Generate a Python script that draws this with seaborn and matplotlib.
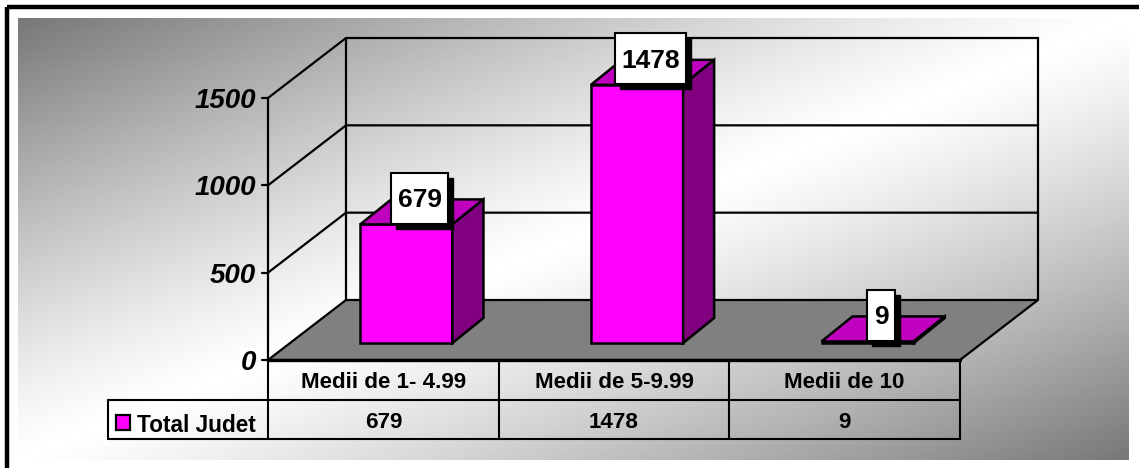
import matplotlib
matplotlib.use("Agg")
import matplotlib.pyplot as plt
import numpy as np
import pandas as pd
import seaborn as sns
from matplotlib.patches import Polygon, Rectangle

categories = ["Medii de 1- 4.99", "Medii de 5-9.99", "Medii de 10"]
values = [679, 1478, 9]
y_ticks = [0, 500, 1000, 1500]
series_name = "Total Judet"

W, H = 1139, 468
MAGENTA, TOP_FACE, SIDE_FACE = "#ff00ff", "#bf00bf", "#800080"
DX, DY = 78, 60  # floor depth in pixels
BAR_DX, BAR_DY = 31, 25
X0, X1, Y0 = 268, 960, 360  # front edge of the floor
PX_PER_UNIT = 262 / 1500

sns.set_theme(style="white")
plt.rcParams["font.family"] = ["Liberation Sans", "DejaVu Sans"]
plt.rcParams["text.color"] = "black"
fig = plt.figure(figsize=(W / 100, H / 100), dpi=100, facecolor="white")

# pixel coordinate layers, below and above the bars
bg = fig.add_axes([0, 0, 1, 1], zorder=0)
top = fig.add_axes([0, 0, 1, 1], zorder=2)
for a in (bg, top):
    a.set_xlim(0, W)
    a.set_ylim(H, 0)
    a.axis("off")
    a.patch.set_alpha(0)

# diagonal grey gradient
u, v = np.meshgrid(np.linspace(0, 1, 400), np.linspace(0, 1, 200))
t = np.abs((u + v) - 1)
bg.imshow(1 - 0.53 * t ** 1.2, cmap="gray", vmin=0, vmax=1, extent=(18, 1129, 460, 18),
          aspect="auto", zorder=0)
bg.set_xlim(0, W)
bg.set_ylim(H, 0)

# frame, cut off by the right and bottom image edges
bg.add_patch(Rectangle((7, 7), W + 20, H + 20, fill=False, ec="black", lw=3.2, zorder=1))

# walls and floor
bg.add_patch(Polygon([(X0, Y0), (X0 + DX, Y0 - DY), (X1 + DX, Y0 - DY), (X1, Y0)],
                     fc="#808080", ec="black", lw=1.6, zorder=2))
wall_h = 1500 * PX_PER_UNIT
bg.plot([X0, X0], [Y0 - wall_h, Y0], color="black", lw=1.6, zorder=2)
bg.plot([X0 + DX, X0 + DX], [Y0 - DY - wall_h, Y0 - DY], color="black", lw=1.6, zorder=2)
bg.plot([X1 + DX, X1 + DX], [Y0 - DY - wall_h, Y0 - DY], color="black", lw=1.6, zorder=2)
for tick in y_ticks:
    y = Y0 - tick * PX_PER_UNIT
    bg.plot([X0 - 6, X0], [y, y], color="black", lw=1.6, zorder=2)
    bg.text(X0 - 12, y, str(tick), ha="right", va="center_baseline", fontsize=20,
            fontweight="bold", fontstyle="italic", color="black")
    if tick > 0:
        bg.plot([X0, X0 + DX, X1 + DX], [y, y - DY, y - DY], color="black", lw=1.6, zorder=2)

# bars, on a plane partway back on the floor
ax = fig.add_axes([291 / W, (H - 343) / H, 692 / W, 262 / H], zorder=1)
df = pd.DataFrame({"categorie": categories, "valoare": values})
sns.barplot(data=df, x="categorie", y="valoare", color=MAGENTA, saturation=1, width=0.4,
            edgecolor="black", linewidth=1.8, ax=ax)
ax.set_xlim(-0.5, 2.5)
ax.set_ylim(0, 1500)
ax.axis("off")

ddx = BAR_DX * 3 / 692
ddy = BAR_DY / PX_PER_UNIT
for bar in ax.patches:
    x, w, h = bar.get_x(), bar.get_width(), bar.get_height()
    bar.set_clip_on(False)
    ax.add_patch(Polygon([(x, h), (x + ddx, h + ddy), (x + w + ddx, h + ddy), (x + w, h)],
                         fc=TOP_FACE, ec="black", lw=1.8, clip_on=False))
    ax.add_patch(Polygon([(x + w, 0), (x + w + ddx, ddy), (x + w + ddx, h + ddy), (x + w, h)],
                         fc=SIDE_FACE, ec="black", lw=1.8, clip_on=False))

# value labels with a hard black shadow
to_px = lambda p: top.transData.inverted().transform(ax.transData.transform(p))
for i, val in enumerate(values):
    cx, cy = to_px((i, val))
    cx, cy = cx + 13.5, cy - 26.5
    label = str(val)
    bw = 14.3 * len(label) + 14
    top.add_patch(Rectangle((cx - bw / 2 + 5, cy - 25 + 5), bw, 51, fc="black", ec="black", lw=1))
    top.add_patch(Rectangle((cx - bw / 2, cy - 25), bw, 51, fc="white", ec="black", lw=1.5))
    top.text(cx, cy, label, ha="center", va="center_baseline", fontsize=19,
             fontweight="bold", color="black")

# data table under the chart
col_w = (X1 - X0) / len(categories)
R0, R1, R2 = Y0, 400, 439
bg.plot([X0, X1], [R0, R0], color="black", lw=2.4, zorder=3)
bg.plot([108, X1], [R1, R1], color="black", lw=1.5, zorder=3)
bg.plot([108, X1], [R2, R2], color="black", lw=1.5, zorder=3)
bg.plot([108, 108], [R1, R2], color="black", lw=1.5, zorder=3)
for i in range(len(categories) + 1):
    bg.plot([X0 + i * col_w] * 2, [R0, R2], color="black", lw=1.5, zorder=3)
for i, (cat, val) in enumerate(zip(categories, values)):
    xc = X0 + (i + 0.5) * col_w
    bg.text(xc, 380, cat, ha="center", va="center_baseline", fontsize=16.1, fontweight="bold")
    bg.text(xc, 420, str(val), ha="center", va="center_baseline", fontsize=16.1, fontweight="bold")
bg.add_patch(Rectangle((116, 415), 14, 15, fc=MAGENTA, ec="black", lw=1.6, zorder=3))
bg.text(137, 423, series_name, ha="left", va="center_baseline", fontsize=16.3, fontweight="bold")

fig.savefig("out.png", dpi=100)
